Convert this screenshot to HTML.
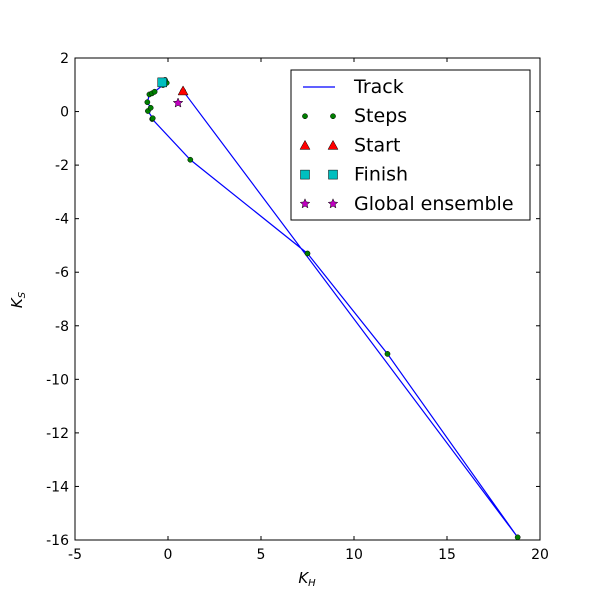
<!DOCTYPE html>
<html><head><meta charset="utf-8"><style>body{margin:0;background:#fff}svg{display:block}text{font-family:"DejaVu Sans","Liberation Sans",sans-serif}</style></head>
<body>
<svg id="chart" width="600" height="600"></svg>
<script>
const trackX=[0.81,18.8,11.8,7.5,1.2,-0.85,-0.82,-1.08,-0.93,-1.11,-1.0,-0.86,-0.72,-0.27,-0.07,-0.16,-0.31];
const trackY=[0.77,-15.9,-9.05,-5.3,-1.8,-0.28,-0.25,0.02,0.14,0.35,0.64,0.68,0.74,0.99,1.07,1.18,1.09];
const startPt=[0.81,0.77];
const finishPt=[-0.31,1.09];
const globalPt=[0.54,0.32];
const xTicks=[-5,0,5,10,15,20];
const yTicks=[2,0,-2,-4,-6,-8,-10,-12,-14,-16];
const L=75,R=540,T=58,B=540;
const sx=v=>L+(v+5)/25*(R-L), sy=v=>T+(2-v)/18*(B-T);
const svg=document.getElementById('chart');const NS='http://www.w3.org/2000/svg';
function mk(tag,attrs,name,parent){const e=document.createElementNS(NS,tag);for(const k in attrs)e.setAttribute(k,attrs[k]);


(parent||svg).appendChild(e);return e;}
mk('rect',{x:L,y:T,width:R-L,height:B-T,fill:'#fff',stroke:'none'},'plot-area');
mk('polyline',{points:trackX.map((x,i)=>sx(x)+','+sy(trackY[i])).join(' '),fill:'none',stroke:'#0000ff','stroke-width':1.2},'track-line');
trackX.forEach((x,i)=>mk('circle',{cx:sx(x),cy:sy(trackY[i]),r:2.6,fill:'#007f00',stroke:'#000','stroke-width':0.5},'step-point'));
function tri(cx,cy,s){return `${cx},${cy-s} ${cx-s},${cy+s*0.8} ${cx+s},${cy+s*0.8}`;}
function star(cx,cy,r){let p=[];for(let i=0;i<10;i++){const a=-Math.PI/2+i*Math.PI/5,rr=i%2?r*0.45:r;p.push((cx+rr*Math.cos(a))+','+(cy+rr*Math.sin(a)));}return p.join(' ');}
mk('polygon',{points:tri(sx(startPt[0]),sy(startPt[1]),5),fill:'#ff0000',stroke:'#000','stroke-width':0.5},'start-marker');
mk('rect',{x:sx(finishPt[0])-4.5,y:sy(finishPt[1])-4.5,width:9,height:9,fill:'#00bfbf',stroke:'#000','stroke-width':0.5},'finish-marker');
mk('polygon',{points:star(sx(globalPt[0]),sy(globalPt[1]),5),fill:'#bf00bf',stroke:'#000','stroke-width':0.5},'global-ensemble-marker');
mk('rect',{x:L,y:T,width:R-L,height:B-T,fill:'none',stroke:'#000','stroke-width':1},'plot-frame');
xTicks.forEach(t=>{const x=sx(t);mk('line',{x1:x,y1:B,x2:x,y2:B-4,stroke:'#000'},'x-tick');mk('line',{x1:x,y1:T,x2:x,y2:T+4,stroke:'#000'},'x-tick-top');
const tx=mk('text',{x:x,y:B+19,'text-anchor':'middle','font-size':14},'x-tick-label');tx.textContent=t;});
yTicks.forEach(t=>{const y=sy(t);mk('line',{x1:L,y1:y,x2:L+4,y2:y,stroke:'#000'},'y-tick');mk('line',{x1:R,y1:y,x2:R-4,y2:y,stroke:'#000'},'y-tick-right');
const tx=mk('text',{x:L-6,y:y+5,'text-anchor':'end','font-size':14},'y-tick-label');tx.textContent=t;});
const xt=mk('text',{x:307,y:583,'text-anchor':'middle','font-size':15,'font-family':'Liberation Serif, serif','font-style':'italic'},'x-axis-title');xt.innerHTML='K<tspan font-size="10" dy="3">H</tspan>';
const yt=mk('text',{x:22,y:300,'text-anchor':'middle','font-size':15,'font-family':'Liberation Serif, serif','font-style':'italic',transform:'rotate(-90 22 300)'},'y-axis-title');yt.innerHTML='K<tspan font-size="10" dy="3">S</tspan>';
const lg=mk('g',{},'legend');
mk('rect',{x:291,y:70,width:239,height:150,fill:'#fff',stroke:'#000','stroke-width':1},'legend-box',lg);
const labels=['Track','Steps','Start','Finish','Global ensemble'];
labels.forEach((s,i)=>{const y=87+i*29.2;const g=mk('g',{},'legend-entry',lg);
if(i==0)mk('line',{x1:303,y1:y,x2:335,y2:y,stroke:'#0000ff','stroke-width':1.2},'legend-line',g);
else [305,333].forEach(cx=>{if(i==1)mk('circle',{cx:cx,cy:y,r:2.6,fill:'#007f00',stroke:'#000','stroke-width':0.5},'legend-marker',g);
if(i==2)mk('polygon',{points:tri(cx,y,5),fill:'#ff0000',stroke:'#000','stroke-width':0.5},'legend-marker',g);
if(i==3)mk('rect',{x:cx-4.5,y:y-4.5,width:9,height:9,fill:'#00bfbf',stroke:'#000','stroke-width':0.5},'legend-marker',g);
if(i==4)mk('polygon',{points:star(cx,y,5),fill:'#bf00bf',stroke:'#000','stroke-width':0.5},'legend-marker',g);});
const t=mk('text',{x:354,y:y+6,'font-size':19},'legend-label',g);t.textContent=s;});
</script>
</body></html>
